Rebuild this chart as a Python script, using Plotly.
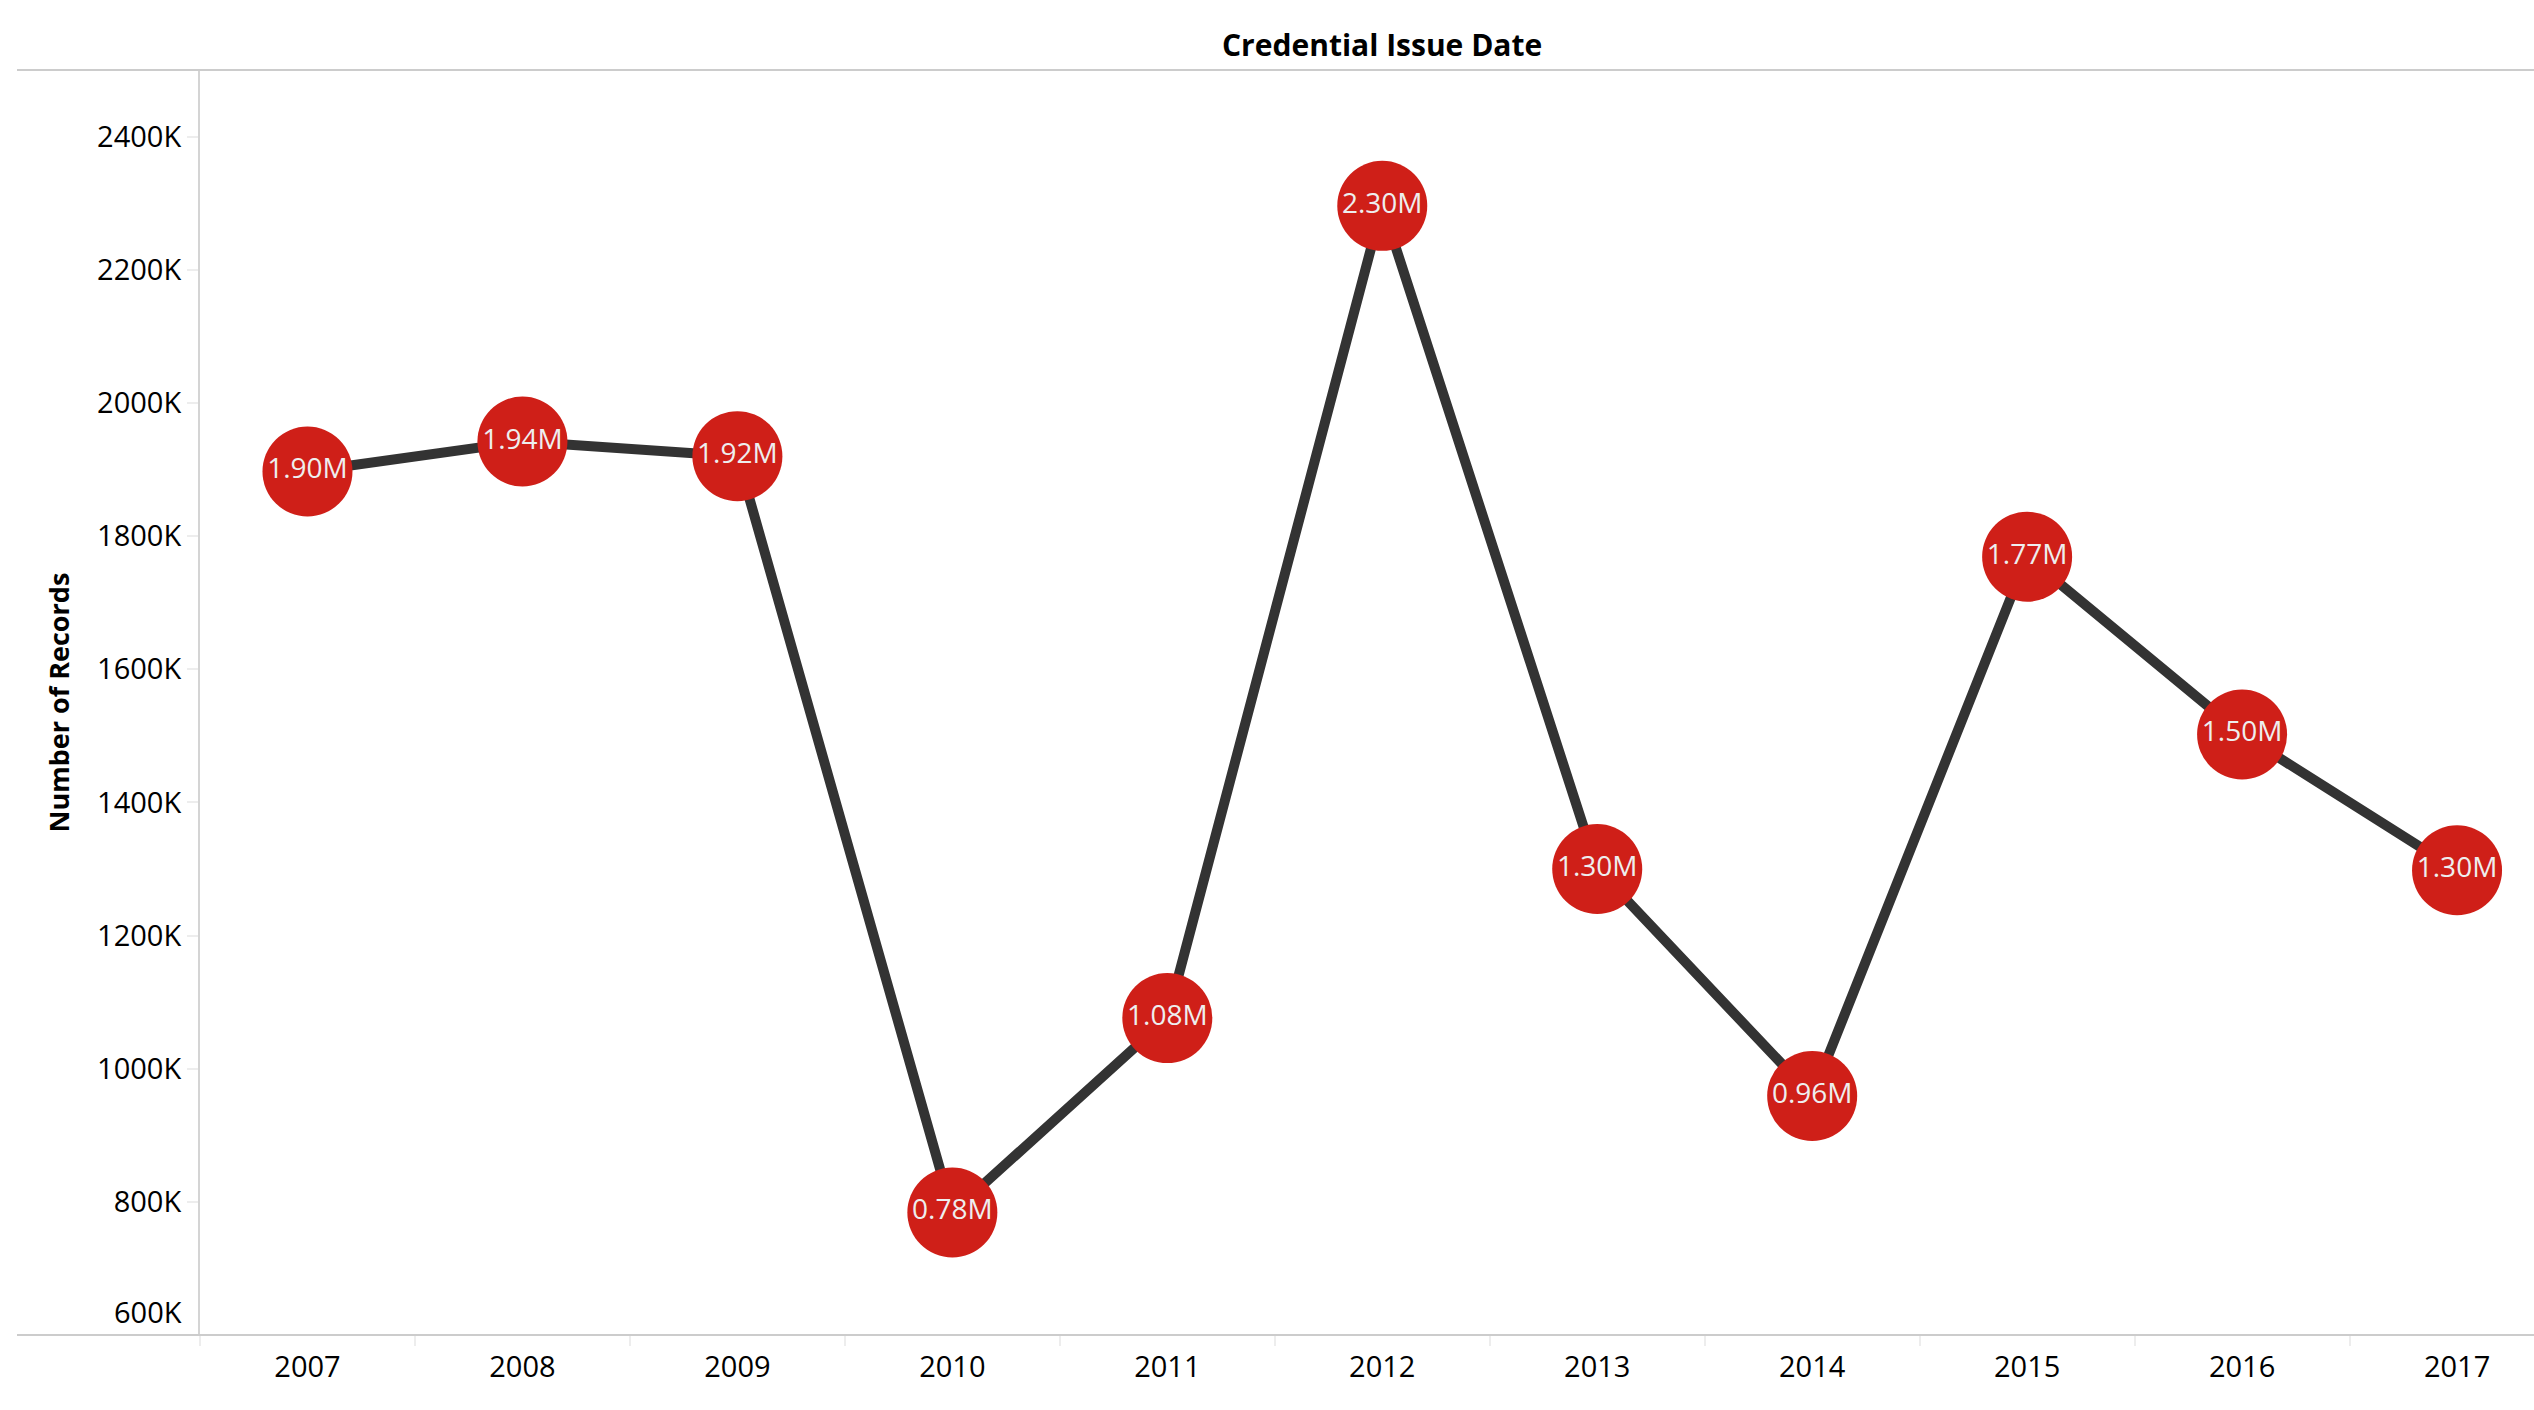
import plotly.graph_objects as go

years = ["2007", "2008", "2009", "2010", "2011", "2012", "2013", "2014", "2015", "2016", "2017"]
records = [1897000, 1942000, 1920000, 784000, 1076000, 2296000, 1300000, 959000, 1769000, 1502000, 1298000]
y_tickvals = [600000, 800000, 1000000, 1200000, 1400000, 1600000, 1800000, 2000000, 2200000, 2400000]
y_ticktext = ["600K", "800K", "1000K", "1200K", "1400K", "1600K", "1800K", "2000K", "2200K", "2400K"]
labels = [f"{v / 1e6:.2f}M" for v in records]

W, H = 2534, 1410
ML, MT, MB = 200, 70, 75
plot_w = W - ML
plot_h = H - MT - MB

FONT = "Open Sans"
TICK_SIZE = 29

# the lowest tick label sits just above the axis line (as in the original), so it is drawn as an annotation
shown_ticktext = [""] + y_ticktext[1:]

fig = go.Figure()
fig.add_trace(go.Scatter(
    x=years, y=records, mode="lines+markers+text",
    line=dict(color="#333333", width=10),
    marker=dict(color="#CF1F18", size=90, line=dict(width=0)),
    text=labels, textposition="middle center",
    textfont=dict(family=FONT, size=28, color="#EEEEEE"),
    hoverinfo="skip", cliponaxis=False,
))

fig.update_layout(
    width=W, height=H,
    margin=dict(l=ML, r=0, t=MT, b=MB, pad=0),
    paper_bgcolor="white", plot_bgcolor="white",
    showlegend=False,
    font=dict(family=FONT, color="#000000"),
    xaxis=dict(
        type="category", range=[-0.5, 10.358],
        showgrid=False, zeroline=False, showline=False,
        ticks="outside", tickson="boundaries", ticklen=10, tickwidth=2, tickcolor="#EDEDED",
        tickfont=dict(family=FONT, size=TICK_SIZE, color="#000000"),
        ticklabelstandoff=12,
        fixedrange=True,
    ),
    yaxis=dict(
        range=[600000, 2500000],
        tickvals=y_tickvals, ticktext=shown_ticktext,
        showgrid=False, zeroline=False,
        showline=True, linecolor="#D4D4D4", linewidth=2,
        ticks="outside", ticklen=11, tickwidth=2, tickcolor="#EDEDED",
        tickfont=dict(family=FONT, size=TICK_SIZE, color="#000000"),
        fixedrange=True,
    ),
    shapes=[
        dict(type="line", xref="paper", yref="paper", x0=(17 - ML) / plot_w, x1=1.0, y0=1, y1=1,
             line=dict(color="#CCCCCC", width=2)),
        dict(type="line", xref="paper", yref="paper", x0=(17 - ML) / plot_w, x1=1.0, y0=0, y1=0,
             line=dict(color="#CCCCCC", width=2)),
    ],
    annotations=[
        dict(text="<b>Credential Issue Date</b>", xref="paper", yref="paper",
             x=(1382 - ML) / plot_w, y=1 + (70 - 45) / plot_h, xanchor="center", yanchor="middle",
             showarrow=False, font=dict(family=FONT, size=30, color="#000000")),
        dict(text="<b>Number of Records</b>", xref="paper", yref="paper",
             x=(58 - ML) / plot_w, y=0.5, xanchor="center", yanchor="middle", textangle=-90,
             showarrow=False, font=dict(family=FONT, size=27, color="#000000")),
        dict(text=y_ticktext[0], xref="paper", yref="y",
             x=(184 - ML) / plot_w, y=y_tickvals[0], xanchor="right", yanchor="bottom", yshift=2,
             showarrow=False, font=dict(family=FONT, size=TICK_SIZE, color="#000000")),
    ],
)

fig.write_html("out.html")
